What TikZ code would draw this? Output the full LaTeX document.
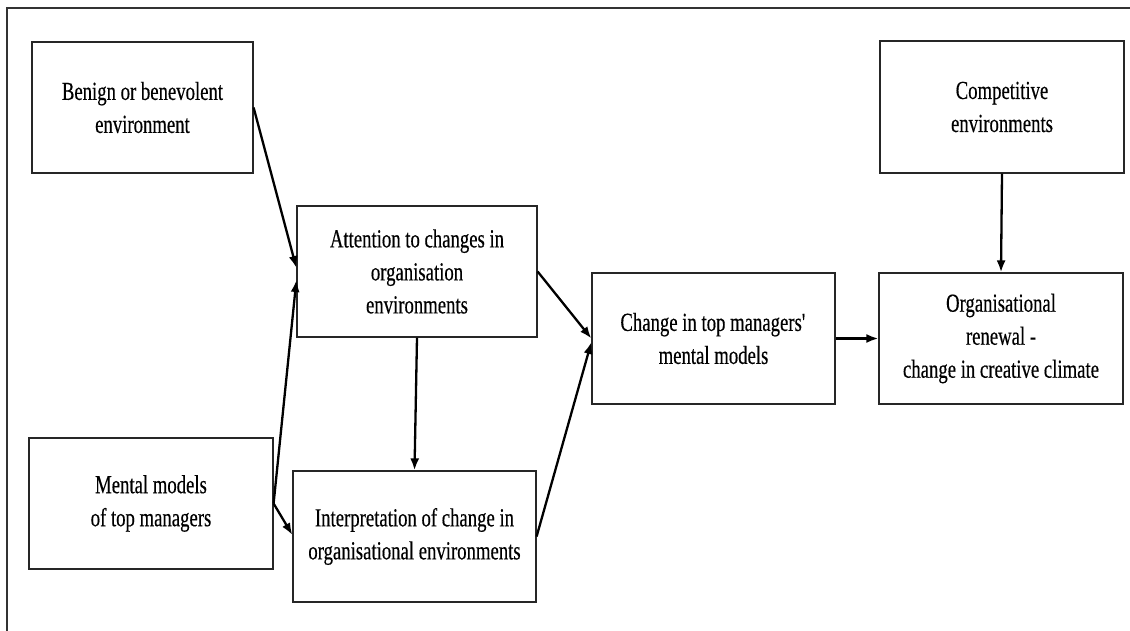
\documentclass[tikz,border=0pt]{standalone}
\usepackage{fontspec}
\setmainfont[FakeStretch=0.72,FakeBold=0.35]{Liberation Serif}
\usetikzlibrary{arrows.meta}
\begin{document}
\begin{tikzpicture}[x=1pt,y=-1pt,
  box/.style={draw=black!85,line width=1.2pt,align=center,inner sep=0pt,
    minimum height=131pt,font=\fontsize{26}{33}\selectfont},
  link/.style={line width=2.3pt,-{Latex[length=12pt,width=9pt]}},
  frame/.style={draw=black!80,line width=1.2pt}]
  \useasboundingbox (0,0) rectangle (1130,631);
  % outer frame
  \coordinate (fTL) at (7,8);
  \coordinate (fTR) at (1130,8);
  \coordinate (fBL) at (7,631);
  \draw[frame] (fBL) -- (fTL) -- (fTR);
  % boxes
  \node[box,minimum width=221pt] (A) at (142.5,107.5) {Benign or benevolent\\environment};
  \node[box,minimum width=244pt,minimum height=132pt] (B) at (1002,107) {Competitive\\environments};
  \node[box,minimum width=240pt] (C) at (417,271.5) {Attention to changes in\\organisation\\environments};
  \node[box,minimum width=243pt] (D) at (713.5,338.5) {Change in top managers\textquotesingle\\mental models};
  \node[box,minimum width=244pt] (E) at (1001,338.5) {Organisational\\renewal -\\change in creative climate};
  \node[box,minimum width=244pt] (F) at (151,503.5) {Mental models\\of top managers};
  \node[box,minimum width=243pt] (G) at (414.5,536.5) {Interpretation of change in\\organisational environments};
  % connectors
  \draw[link] (A.east) -- ([yshift=3.5pt]C.west);
  \draw[link] (F.east) -- ([yshift=-8.5pt]C.west);
  \draw[link] (F.east) -- ([yshift=1.5pt]G.west);
  \draw[link] (C.south) -- (G.north);
  \draw[link] (C.east) -- (D.west);
  \draw[link] (G.east) -- ([yshift=-3.5pt]D.west);
  \draw[link] (D.east) -- (E.west);
  \draw[link] (B.south) -- (E.north);
\end{tikzpicture}
\end{document}
